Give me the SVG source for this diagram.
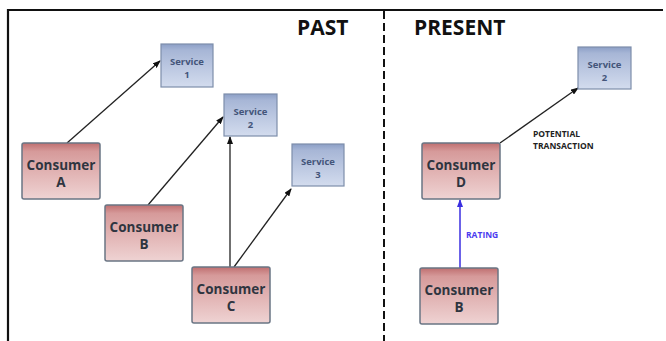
<svg xmlns="http://www.w3.org/2000/svg" width="666" height="341" viewBox="0 0 666 341">
<defs>
<linearGradient id="gs" x1="0" y1="0" x2="0" y2="1">
<stop offset="0" stop-color="#8c9fc6"/>
<stop offset="0.15" stop-color="#a7b6d6"/>
<stop offset="1" stop-color="#d3dcee"/>
</linearGradient>
<linearGradient id="gc" x1="0" y1="0" x2="0" y2="1">
<stop offset="0" stop-color="#bf6f70"/>
<stop offset="0.15" stop-color="#d69a9a"/>
<stop offset="1" stop-color="#efd3d3"/>
</linearGradient>
<marker id="ah" markerWidth="8" markerHeight="6" refX="7" refY="3" orient="auto" markerUnits="userSpaceOnUse">
<path d="M0,0 L8,3 L0,6 Z" fill="#111"/>
</marker>
<marker id="ahb" markerWidth="8" markerHeight="6" refX="7" refY="3" orient="auto" markerUnits="userSpaceOnUse">
<path d="M0,0 L8,3 L0,6 Z" fill="#3a2ee0"/>
</marker>
</defs>
<style>
.svc rect{fill:url(#gs);stroke:#7d8eab;stroke-width:1.2}
.con rect{fill:url(#gc);stroke:#6a7584;stroke-width:1.5}
.svc text{font-family:"Open Sans","Liberation Sans",sans-serif;font-size:9.5px;font-weight:bold;fill:#44557a;text-anchor:middle}
.con text{font-family:"Open Sans","Liberation Sans",sans-serif;font-size:13.5px;font-weight:bold;fill:#2f3540;text-anchor:middle}
.hdr{font-family:"Open Sans","Liberation Sans",sans-serif;font-size:21px;font-weight:bold;fill:#111}
.lbl{font-family:"Open Sans","Liberation Sans",sans-serif;font-size:8.5px;font-weight:bold;fill:#222}
.edge{stroke:#222;stroke-width:1.3;fill:none;marker-end:url(#ah)}
</style>
<rect width="666" height="341" fill="#fff"/>
<g id="frame">
<line x1="8" y1="10" x2="663" y2="10" stroke="#111" stroke-width="2"/>
<line x1="8" y1="9" x2="8" y2="341" stroke="#111" stroke-width="2.2"/>
<line x1="384" y1="11" x2="384" y2="341" stroke="#111" stroke-width="2" stroke-dasharray="8,4"/>
<text class="hdr" x="297" y="35">PAST</text>
<text class="hdr" x="414" y="35">PRESENT</text>
</g>
<g id="connectors">
<line class="edge" x1="67" y1="143" x2="160" y2="61"/>
<line class="edge" x1="148" y1="205" x2="223" y2="117"/>
<line class="edge" x1="230" y1="267" x2="230" y2="137"/>
<line class="edge" x1="234" y1="267" x2="291" y2="189"/>
<line class="edge" x1="500" y1="143" x2="578" y2="88"/>
<line x1="460" y1="268" x2="460" y2="200" stroke="#3a2ee0" stroke-width="1.5" marker-end="url(#ahb)"/>
<text class="lbl" x="533" y="137">POTENTIAL</text>
<text class="lbl" x="533" y="149">TRANSACTION</text>
<text class="lbl" x="466" y="238" style="fill:#4b3cf0">RATING</text>
</g>
<g id="service1" class="svc"><rect x="161" y="44" width="52" height="43"/><text x="187" y="65">Service</text><text x="187" y="78">1</text></g>
<g id="service2" class="svc"><rect x="224" y="94" width="53" height="42"/><text x="250.5" y="115">Service</text><text x="250.5" y="128">2</text></g>
<g id="service3" class="svc"><rect x="292" y="144" width="52" height="42"/><text x="318" y="165">Service</text><text x="318" y="178">3</text></g>
<g id="service2p" class="svc"><rect x="578" y="47" width="53" height="42"/><text x="604.5" y="68">Service</text><text x="604.5" y="81">2</text></g>
<g id="consumerA" class="con"><rect x="22" y="143" width="78" height="56" rx="2"/><text x="61" y="170">Consumer</text><text x="61" y="187">A</text></g>
<g id="consumerB" class="con"><rect x="105" y="205" width="78" height="56" rx="2"/><text x="144" y="232">Consumer</text><text x="144" y="249">B</text></g>
<g id="consumerC" class="con"><rect x="192" y="267" width="78" height="56" rx="2"/><text x="231" y="294">Consumer</text><text x="231" y="311">C</text></g>
<g id="consumerD" class="con"><rect x="422" y="143" width="78" height="56" rx="2"/><text x="461" y="170">Consumer</text><text x="461" y="187">D</text></g>
<g id="consumerBp" class="con"><rect x="420" y="268" width="78" height="56" rx="2"/><text x="459" y="295">Consumer</text><text x="459" y="312">B</text></g>
</svg>
